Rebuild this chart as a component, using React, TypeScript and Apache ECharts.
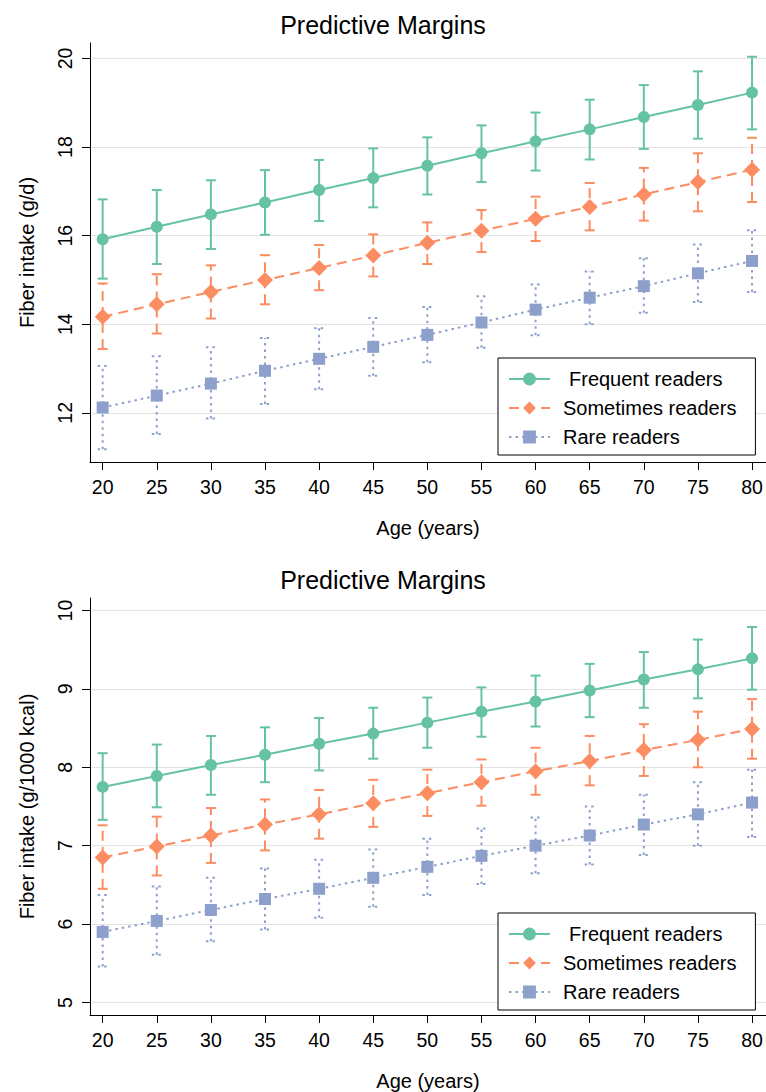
import React, { useEffect, useRef } from "react";
import * as echarts from "echarts";

const ages = [20, 25, 30, 35, 40, 45, 50, 55, 60, 65, 70, 75, 80];
const xTicks = [20, 25, 30, 35, 40, 45, 50, 55, 60, 65, 70, 75, 80];
const yTicksTop = [12, 14, 16, 18, 20];
const yTicksBottom = [5, 6, 7, 8, 9, 10];

const seriesNames = ["Frequent readers", "Sometimes readers", "Rare readers"];

// Top panel: Fiber intake (g/d)
const freqD = [15.92, 16.2, 16.48, 16.75, 17.03, 17.3, 17.58, 17.86, 18.13, 18.4, 18.68, 18.95, 19.23];
const freqDLo = [15.03, 15.36, 15.7, 16.02, 16.33, 16.64, 16.93, 17.21, 17.47, 17.72, 17.96, 18.19, 18.4];
const freqDHi = [16.82, 17.03, 17.25, 17.48, 17.71, 17.97, 18.22, 18.49, 18.78, 19.07, 19.4, 19.71, 20.04];
const someD = [14.17, 14.45, 14.73, 15.0, 15.27, 15.55, 15.84, 16.11, 16.38, 16.65, 16.93, 17.21, 17.49];
const someDLo = [13.44, 13.79, 14.13, 14.45, 14.77, 15.08, 15.36, 15.63, 15.88, 16.12, 16.34, 16.55, 16.76];
const someDHi = [14.92, 15.13, 15.33, 15.56, 15.79, 16.03, 16.3, 16.58, 16.88, 17.19, 17.53, 17.86, 18.21];
const rareD = [12.12, 12.39, 12.66, 12.95, 13.22, 13.49, 13.76, 14.04, 14.33, 14.6, 14.86, 15.15, 15.43];
const rareDLo = [11.18, 11.52, 11.87, 12.2, 12.53, 12.84, 13.14, 13.47, 13.75, 14.0, 14.26, 14.5, 14.73];
const rareDHi = [13.06, 13.28, 13.48, 13.69, 13.91, 14.14, 14.39, 14.63, 14.9, 15.19, 15.49, 15.8, 16.12];

// Bottom panel: Fiber intake (g/1000 kcal)
const freqK = [7.75, 7.89, 8.03, 8.16, 8.3, 8.43, 8.57, 8.71, 8.84, 8.98, 9.12, 9.25, 9.39];
const freqKLo = [7.33, 7.49, 7.65, 7.81, 7.96, 8.11, 8.25, 8.39, 8.52, 8.64, 8.76, 8.88, 8.99];
const freqKHi = [8.18, 8.29, 8.4, 8.51, 8.63, 8.76, 8.89, 9.02, 9.17, 9.32, 9.47, 9.63, 9.79];
const someK = [6.85, 6.99, 7.13, 7.27, 7.4, 7.54, 7.67, 7.81, 7.95, 8.08, 8.22, 8.35, 8.49];
const someKLo = [6.45, 6.62, 6.78, 6.94, 7.09, 7.24, 7.38, 7.51, 7.65, 7.77, 7.89, 8.0, 8.11];
const someKHi = [7.26, 7.37, 7.48, 7.59, 7.71, 7.84, 7.97, 8.1, 8.25, 8.4, 8.55, 8.71, 8.87];
const rareK = [5.9, 6.04, 6.18, 6.32, 6.45, 6.59, 6.73, 6.87, 7.0, 7.13, 7.27, 7.4, 7.55];
const rareKLo = [5.46, 5.61, 5.78, 5.93, 6.08, 6.22, 6.37, 6.51, 6.65, 6.76, 6.88, 7.0, 7.11];
const rareKHi = [6.37, 6.48, 6.59, 6.71, 6.82, 6.95, 7.09, 7.22, 7.36, 7.5, 7.65, 7.81, 7.97];

const FONT = "'Liberation Sans', Arial, Helvetica, sans-serif";
const COLORS = ["#66c2a5", "#fc8d62", "#8da0cb"];
const SYMBOLS = ["circle", "diamond", "rect"];
const SYMBOL_SIZES: any[] = [12, [16, 16], 12];
const DASHES: any[] = ["solid", [10, 6], [2.5, 4]];

function errorBarSeries(name: string, idx: number, axisIndex: number, lo: number[], hi: number[]) {
  const color = COLORS[idx];
  const dash = DASHES[idx];
  return {
    type: "custom",
    name: name + " CI",
    xAxisIndex: axisIndex,
    yAxisIndex: axisIndex,
    z: 1,
    silent: true,
    encode: { x: 0, y: [1, 2] },
    data: ages.map((a, i) => [a, lo[i], hi[i]]),
    renderItem: (params: any, api: any) => {
      const x = api.value(0);
      const p1 = api.coord([x, api.value(1)]);
      const p2 = api.coord([x, api.value(2)]);
      const half = 5;
      const style: any = {
        stroke: color,
        lineWidth: 2,
        fill: null,
        lineDash: dash === "solid" ? null : dash,
      };
      return {
        type: "group",
        children: [
          { type: "line", shape: { x1: p1[0], y1: p1[1], x2: p2[0], y2: p2[1] }, style },
          { type: "line", shape: { x1: p2[0] - half, y1: p2[1], x2: p2[0] + half, y2: p2[1] }, style },
          { type: "line", shape: { x1: p1[0] - half, y1: p1[1], x2: p1[0] + half, y2: p1[1] }, style },
        ],
      };
    },
  };
}

function lineSeries(name: string, idx: number, axisIndex: number, vals: number[]) {
  return {
    type: "line",
    name,
    xAxisIndex: axisIndex,
    yAxisIndex: axisIndex,
    z: 3,
    data: ages.map((a, i) => [a, vals[i]]),
    symbol: SYMBOLS[idx],
    symbolSize: SYMBOL_SIZES[idx],
    showAllSymbol: true,
    itemStyle: { color: COLORS[idx], borderWidth: 0 },
    lineStyle: { color: COLORS[idx], width: 2, type: DASHES[idx] },
    emphasis: { disabled: true },
  };
}

function xAxisCfg(gridIndex: number) {
  return {
    type: "value",
    gridIndex,
    min: 18.83,
    max: 81.29,
    name: "Age (years)",
    nameLocation: "middle",
    nameGap: 56,
    nameTextStyle: { fontSize: 20, color: "#000", fontFamily: FONT },
    axisLine: { show: true, onZero: false, lineStyle: { color: "#000", width: 1 } },
    axisTick: { show: true, length: 8, lineStyle: { color: "#000", width: 1 }, customValues: xTicks },
    axisLabel: { fontSize: 19.5, color: "#000", fontFamily: FONT, margin: 15, customValues: xTicks },
    splitLine: { show: false },
  };
}

function yAxisCfg(gridIndex: number, min: number, max: number, ticks: number[], name: string) {
  return {
    type: "value",
    gridIndex,
    min,
    max,
    name,
    nameLocation: "middle",
    nameGap: 53,
    nameTextStyle: { fontSize: 20, color: "#000", fontFamily: FONT },
    axisLine: { show: true, onZero: false, lineStyle: { color: "#000", width: 1 } },
    axisTick: { show: true, length: 8, lineStyle: { color: "#000", width: 1 }, customValues: ticks },
    axisLabel: { fontSize: 19.5, color: "#000", fontFamily: FONT, rotate: 90, margin: 15, customValues: ticks },
    splitLine: { show: true, lineStyle: { color: "#e3e3e3", width: 1 } },
  };
}

function legendCfg(top: number) {
  return {
    orient: "vertical",
    left: 498,
    top,
    data: seriesNames,
    itemWidth: 41,
    itemHeight: 16,
    itemGap: 9,
    padding: [11, 19, 8, 10],
    borderColor: "#000",
    borderWidth: 1,
    backgroundColor: "#fff",
    selectedMode: false,
    formatter: (name: string) => (name === seriesNames[0] ? "{b|" + name + "}" : "{a|" + name + "}"),
    textStyle: {
      fontSize: 20,
      color: "#000",
      fontFamily: FONT,
      rich: {
        a: { fontSize: 20, lineHeight: 20, padding: [0, 0, 0, 8], color: "#000", fontFamily: FONT },
        b: { fontSize: 20, lineHeight: 20, padding: [0, 0, 0, 14], color: "#000", fontFamily: FONT },
      },
    },
  };
}

export default function App() {
  const ref = useRef<HTMLDivElement>(null);
  useEffect(() => {
    if (!ref.current) return;
    const chart = echarts.init(ref.current, null as any, { renderer: "svg" });
    const option: any = {
      animation: false,
      backgroundColor: "#fff",
      title: [
        {
          text: "Predictive Margins",
          left: "center",
          top: 12,
          padding: 0,
          textStyle: { fontSize: 25, fontWeight: "normal", color: "#000", fontFamily: FONT },
        },
        {
          text: "Predictive Margins",
          left: "center",
          top: 567,
          padding: 0,
          textStyle: { fontSize: 25, fontWeight: "normal", color: "#000", fontFamily: FONT },
        },
      ],
      legend: [legendCfg(358), legendCfg(913)],
      grid: [
        { left: 90, top: 43, width: 676, height: 419, containLabel: false },
        { left: 90, top: 598, width: 676, height: 418, containLabel: false },
      ],
      xAxis: [xAxisCfg(0), xAxisCfg(1)],
      yAxis: [
        yAxisCfg(0, 10.89, 20.35, yTicksTop, "Fiber intake (g/d)"),
        yAxisCfg(1, 4.84, 10.16, yTicksBottom, "Fiber intake (g/1000 kcal)"),
      ],
      series: [
        errorBarSeries(seriesNames[0], 0, 0, freqDLo, freqDHi),
        errorBarSeries(seriesNames[1], 1, 0, someDLo, someDHi),
        errorBarSeries(seriesNames[2], 2, 0, rareDLo, rareDHi),
        lineSeries(seriesNames[0], 0, 0, freqD),
        lineSeries(seriesNames[1], 1, 0, someD),
        lineSeries(seriesNames[2], 2, 0, rareD),
        errorBarSeries(seriesNames[0], 0, 1, freqKLo, freqKHi),
        errorBarSeries(seriesNames[1], 1, 1, someKLo, someKHi),
        errorBarSeries(seriesNames[2], 2, 1, rareKLo, rareKHi),
        lineSeries(seriesNames[0], 0, 1, freqK),
        lineSeries(seriesNames[1], 1, 1, someK),
        lineSeries(seriesNames[2], 2, 1, rareK),
      ],
    };
    chart.setOption(option);
    return () => chart.dispose();
  }, []);
  return (
    <div
      ref={ref}
      style={{ position: "absolute", left: 0, top: 0, width: 766, height: 1092, background: "#fff" }}
    />
  );
}
